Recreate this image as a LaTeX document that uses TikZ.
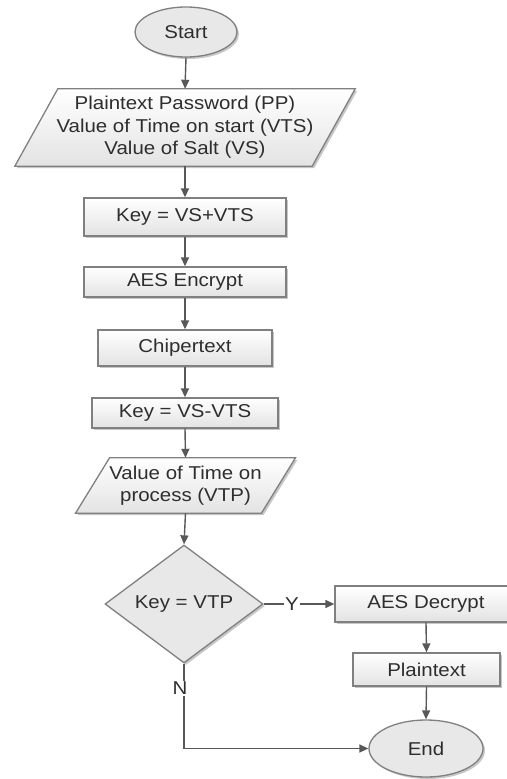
\documentclass[tikz,border=0pt]{standalone}
\usepackage{fontspec}
\setmainfont{Liberation Sans}[FakeStretch=1.1]
\usetikzlibrary{shapes.geometric,arrows.meta,shadows,calc,backgrounds}

\definecolor{edgegray}{HTML}{808080}
\definecolor{arrowgray}{HTML}{585858}
\definecolor{txtgray}{HTML}{2E2E2E}

% parallelogram (input/output) drawn around a text node, #2 = half of the slant offset
\newcommand{\drawslant}[2]{%
  \path[boxfill] ($(#1.north west)+(#2,0)$) -- ($(#1.north east)+(#2,0)$)
    -- ($(#1.south east)-(#2,0)$) -- ($(#1.south west)-(#2,0)$) -- cycle;}

\begin{document}
\begin{tikzpicture}[x=1pt,y=-1pt,
  every node/.style={font=\fontsize{18.6}{22.5}\selectfont, text=txtgray},
  softshadow/.style={drop shadow={shadow xshift=2pt, shadow yshift=-2pt, opacity=0.22, fill=black}},
  boxfill/.style={draw=edgegray, line width=1.3pt, top color=white, bottom color=black!11, softshadow},
  procbox/.style={boxfill, rectangle, inner sep=0pt},
  term/.style={ellipse, draw=edgegray, line width=1.3pt, fill=black!9, inner sep=0pt, softshadow},
  decision/.style={diamond, draw=edgegray, line width=1.3pt, fill=black!9, inner sep=0pt, softshadow},
  iotext/.style={rectangle, inner sep=0pt, align=center},
  flow/.style={draw=arrowgray, line width=1.4pt, -{Triangle[length=9pt,width=8pt]}},
  branch/.style={fill=white, inner sep=1pt},
]
\useasboundingbox (0,0) rectangle (506,779);

% main column
\node[term, minimum width=102pt, minimum height=50pt] (start) at (186,32) {Start};
\node[iotext, minimum width=297pt, minimum height=77pt] (in1) at (185,127.5)
  {Plaintext Password (PP)\\Value of Time on start (VTS)\\Value of Salt (VS)};
\node[procbox, minimum width=202pt, minimum height=38pt] (k1) at (185,217) {Key = VS+VTS};
\node[procbox, minimum width=202pt, minimum height=30pt] (aesE) at (185,282) {AES Encrypt};
\node[procbox, minimum width=174pt, minimum height=36pt] (chip) at (185,348) {Chipertext};
\node[procbox, minimum width=186pt, minimum height=30pt] (k2) at (185,413) {Key = VS-VTS};
\node[iotext, minimum width=185.5pt, minimum height=55pt] (in2) at (185.5,485.5)
  {Value of Time on\\process (VTP)};
\node[decision, minimum width=158pt, minimum height=118pt] (dec) at (184,604) {Key = VTP};

% right column
\node[procbox, minimum width=182pt, minimum height=36pt] (aesD) at (426,604) {AES Decrypt};
\node[procbox, minimum width=147pt, minimum height=33pt] (plain) at (426.5,669.5) {Plaintext};
\node[term, minimum width=114pt, minimum height=57pt] (end) at (426,748.5) {End};

% parallelogram outlines behind their texts
\begin{pgfonlayer}{background}
  \drawslant{in1}{21.5}
  \drawslant{in2}{17}
\end{pgfonlayer}

% connectors
\draw[flow] (start.south) -- (in1.north);
\draw[flow] (in1.south) -- (k1.north);
\draw[flow] (k1.south) -- (aesE.north);
\draw[flow] (aesE.south) -- (chip.north);
\draw[flow] (chip.south) -- (k2.north);
\draw[flow] (k2.south) -- (in2.north);
\draw[flow] (in2.south) -- (dec.north);
\draw[flow] (dec.east) -- node[branch, pos=0.4] {Y} (aesD.west);
\draw[flow] (aesD.south) -- (plain.north);
\draw[flow] (plain.south) -- (end.north);
\draw[flow] (dec.south) -- node[branch, pos=0.29, xshift=-4pt] {N} (dec.south |- end.west) -- (end.west);
\end{tikzpicture}
\end{document}
